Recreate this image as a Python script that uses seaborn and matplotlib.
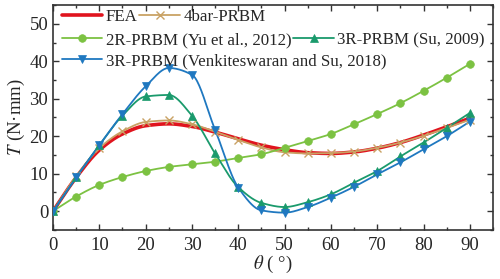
import matplotlib
matplotlib.use("Agg")
import matplotlib.pyplot as plt
from matplotlib.lines import Line2D
from matplotlib.ticker import MultipleLocator
import numpy as np
import seaborn as sb

# angle (deg), values
theta = [0, 5, 10, 15, 20, 25, 30, 35, 40, 45, 50, 55, 60, 65, 70, 75, 80, 85, 90]
fea = [0, 9.0, 16.3, 20.6, 22.8, 23.3, 22.6, 21.1, 19.3, 17.6, 16.4, 15.6, 15.4, 15.8, 16.8, 18.3, 20.3, 22.5, 24.8]
bar4 = [0, 9.3, 16.8, 21.3, 23.8, 24.2, 23.2, 21.2, 19.0, 17.0, 15.7, 15.4, 15.5, 15.9, 16.9, 18.3, 20.1, 22.2, 24.4]
yu2r = [0, 3.9, 7.0, 9.1, 10.7, 11.8, 12.5, 13.2, 14.2, 15.2, 16.9, 18.7, 20.6, 23.2, 25.9, 28.8, 32.1, 35.6, 39.3]
su3r = [0, 9.0, 17.6, 25.5, 30.6, 31.0, 25.5, 15.4, 6.4, 2.2, 1.1, 2.4, 4.5, 7.6, 10.7, 14.6, 18.3, 22.2, 26.2]
venk3r = [0, 9.0, 17.6, 25.9, 33.3, 38.2, 36.4, 21.7, 6.3, 0.2, -0.4, 1.1, 3.6, 6.5, 9.8, 13.0, 16.5, 20.0, 23.9]

labels = ["FEA", "4bar-PRBM", "2R-PRBM (Yu et al., 2012)", "3R-PRBM (Su, 2009)",
          "3R-PRBM (Venkiteswaran and Su, 2018)"]


def smooth(x, y, n=400):
    # monotone cubic (pchip) curve through the points, only for drawing
    x = np.asarray(x, float)
    y = np.asarray(y, float)
    h = np.diff(x)
    d = np.diff(y) / h
    m = np.zeros_like(y)
    for i in range(1, len(x) - 1):
        if d[i - 1] * d[i] > 0:
            w1 = 2 * h[i] + h[i - 1]
            w2 = h[i] + 2 * h[i - 1]
            m[i] = (w1 + w2) / (w1 / d[i - 1] + w2 / d[i])
    m[0] = d[0]
    m[-1] = d[-1]
    xs = np.linspace(x[0], x[-1], n)
    k = np.clip(np.searchsorted(x, xs) - 1, 0, len(x) - 2)
    t = (xs - x[k]) / h[k]
    h00 = 2 * t ** 3 - 3 * t ** 2 + 1
    h10 = t ** 3 - 2 * t ** 2 + t
    h01 = -2 * t ** 3 + 3 * t ** 2
    h11 = t ** 3 - t ** 2
    ys = h00 * y[k] + h10 * h[k] * m[k] + h01 * y[k + 1] + h11 * h[k] * m[k + 1]
    return xs, ys


sb.set_theme(style="ticks")
plt.rcParams["font.family"] = ["Liberation Serif", "DejaVu Serif"]
plt.rcParams["mathtext.fontset"] = "stix"

f, ax = plt.subplots(figsize=(5.0, 2.79), dpi=100)
f.subplots_adjust(left=0.106, right=0.986, bottom=0.176, top=0.982)

c_fea = "#e0141e"
c_bar = "#c9a264"
c_yu = "#7cc242"
c_su = "#1a9a6c"
c_venk = "#1f78c0"

xs, ys = smooth(theta, fea)
sb.lineplot(x=xs, y=ys, ax=ax, color=c_fea, lw=2.6, zorder=2)

series = [
    (bar4, c_bar, "x", 1.3, 6),
    (yu2r, c_yu, "o", 1.3, 5.5),
    (su3r, c_su, "^", 1.3, 6),
    (venk3r, c_venk, "v", 1.3, 6),
]
handles = [Line2D([], [], color=c_fea, lw=2.6)]
for vals, col, mk, lw, ms in series:
    xs, ys = smooth(theta, vals)
    sb.lineplot(x=xs, y=ys, ax=ax, color=col, lw=lw, zorder=3)
    ax.plot(theta, vals, ls="none", marker=mk, color=col, ms=ms,
            mew=1.0 if mk == "x" else 0.5, zorder=4)
    handles.append(Line2D([], [], color=col, lw=lw, marker=mk, ms=ms,
                          mew=1.0 if mk == "x" else 0.5))

ax.set_xlim(0, 95)
ax.set_ylim(-5, 55)
ax.xaxis.set_major_locator(MultipleLocator(10))
ax.xaxis.set_minor_locator(MultipleLocator(5))
ax.yaxis.set_major_locator(MultipleLocator(10))
ax.yaxis.set_minor_locator(MultipleLocator(5))
ax.tick_params(which="both", direction="in", top=True, right=True, width=1.0,
               labelsize=13.5, color="#333333")
ax.tick_params(which="major", length=4)
ax.tick_params(which="minor", length=2.5)
ax.tick_params(axis="x", pad=5)
for s in ax.spines.values():
    s.set_linewidth(1.2)
    s.set_color("#333333")

ax.set_xlabel(r"$\theta$ ( °)", fontsize=13.5, labelpad=0)
ax.set_ylabel(r"$T$ (N·mm)", fontsize=13.5, labelpad=2)

leg_kw = dict(frameon=False, fontsize=12.2, handlelength=2.4, handletextpad=0.2,
              columnspacing=0.1, borderpad=0, borderaxespad=0, loc="center left")
rows = [([0, 1], 0.947), ([2, 3], 0.844), ([4], 0.751)]
legs = []
for idx, yy in rows:
    lg = ax.legend([handles[i] for i in idx], [labels[i] for i in idx],
                   ncol=len(idx), bbox_to_anchor=(0.02, yy), **leg_kw)
    legs.append(lg)
for lg in legs[:-1]:
    ax.add_artist(lg)

plt.savefig("out.png", dpi=100)
